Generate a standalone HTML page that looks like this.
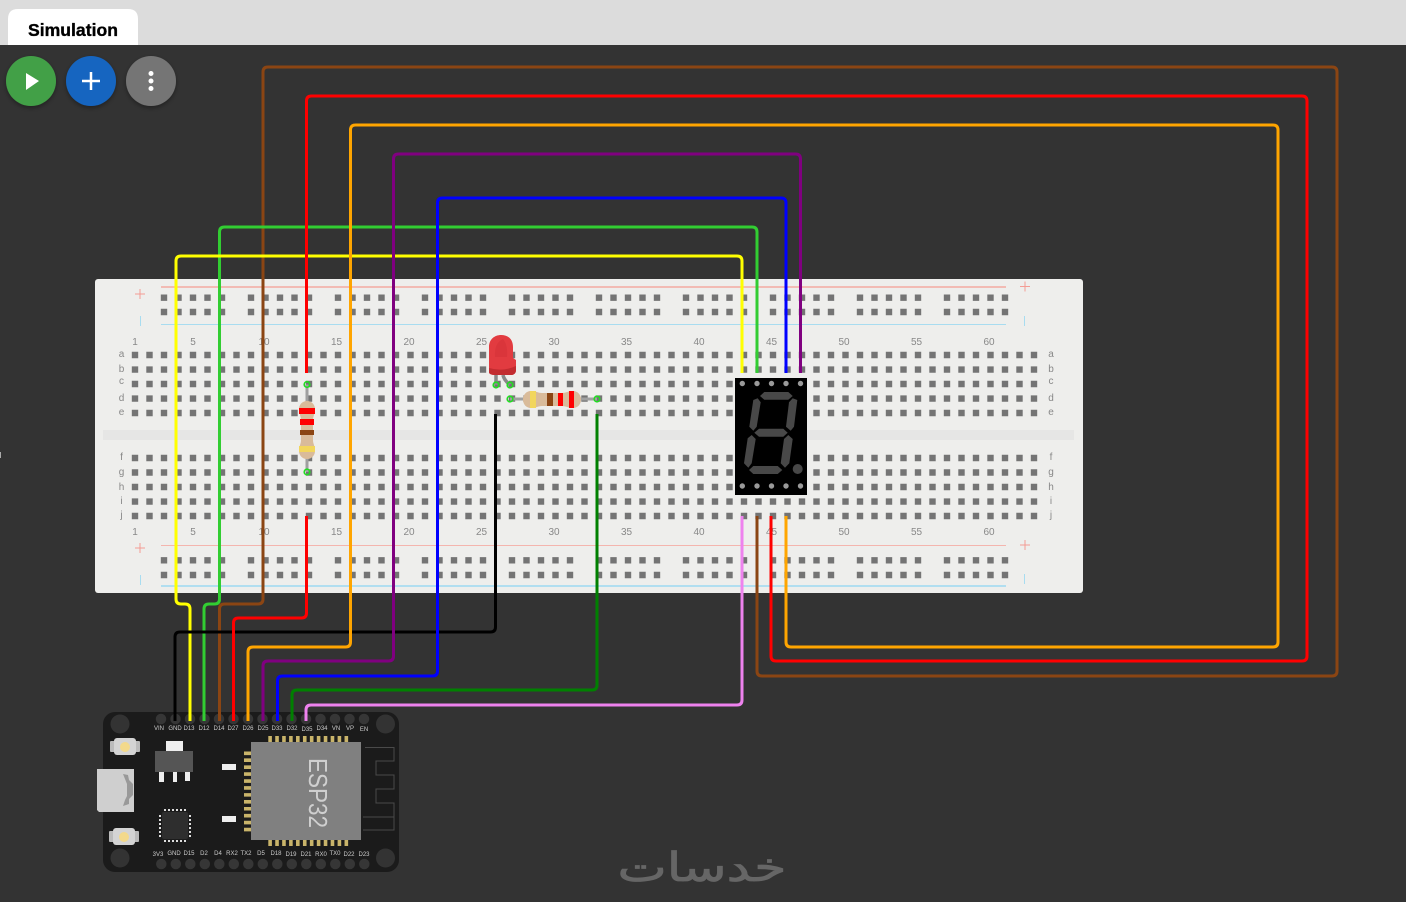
<!DOCTYPE html>
<html><head><meta charset="utf-8"><title>Simulation</title>
<style>html,body{margin:0;padding:0;background:#333;width:1406px;height:902px;overflow:hidden}svg{display:block}
.n{font:10px "Liberation Sans",sans-serif;fill:#888;text-anchor:middle}
.p{font:6px "Liberation Sans",sans-serif;fill:#ccc;text-anchor:middle}
.w{fill:none;stroke-width:3}</style></head><body>
<svg width="1406" height="902" viewBox="0 0 1406 902" xmlns="http://www.w3.org/2000/svg">
<defs><filter id="s" x="-30%" y="-30%" width="160%" height="160%"><feDropShadow dx="0" dy="2" stdDeviation="2.5" flood-color="#000" flood-opacity=".35"/></filter></defs>
<rect width="1406" height="902" fill="#333"/>
<rect width="1406" height="45" fill="#dcdcdc"/>
<path d="M8 45V19Q8 9 18 9H128Q138 9 138 19V45Z" fill="#fff"/>
<text x="73" y="36" font-family="Liberation Sans" font-weight="700" font-size="17.6" text-anchor="middle" fill="#000" stroke="#000" stroke-width=".35">Simulation</text>
<rect x="0" y="452" width="1" height="6" fill="#aaa"/>

<!-- breadboard -->
<rect x="95" y="279" width="988" height="314" rx="3" fill="#eeeeec"/>
<rect x="103" y="430" width="971" height="10" fill="#e6e6e5"/>
<g stroke="#747474" stroke-width="6.400" fill="none" stroke-dasharray="6.400 8.100">
<path d="M131.800 355H1037.400M131.800 369.600H1037.400M131.800 384H1037.400M131.800 398.600H1037.400M131.800 413H1037.400M131.800 458H1037.400M131.800 472.500H1037.400M131.800 487H1037.400M131.800 501.600H1037.400M131.800 516H1037.400"/>
</g>
<g stroke="#747474" stroke-width="6.400" fill="none" stroke-dasharray="6.400 8.100 6.400 8.100 6.400 8.100 6.400 8.100 6.400 22.600">
<path d="M160.800 297.700H1009M160.800 312H1009M160.800 560.300H1009M160.800 575H1009"/>
</g>
<path d="M161 287H1006" stroke="#f4aaa2" stroke-width="1.600"/>
<path d="M161 324.500H1006" stroke="#a8dcf0" stroke-width="1"/>
<path d="M161 545.500H1006" stroke="#f4b5ae" stroke-width="1"/>
<path d="M161 586H1006" stroke="#a8dcf0" stroke-width="1.800"/>
<g stroke="#f49c94" stroke-width="1" fill="none"><path d="M135 294H145M140 289V299M1020 286.500H1030M1025 281.500V291.500M135 548H145M140 543V553M1020 545H1030M1025 540V550"/></g>
<g stroke="#a8dcf0" stroke-width="1" fill="none"><path d="M140.500 316V326M1024.500 316V326M140.500 575V585M1024.500 574V584"/></g>
<g class="n">
<text class="n" x="135" y="345">1</text><text class="n" x="193" y="345">5</text><text class="n" x="264" y="345">10</text><text class="n" x="336.500" y="345">15</text><text class="n" x="409" y="345">20</text><text class="n" x="481.500" y="345">25</text><text class="n" x="554" y="345">30</text><text class="n" x="626.500" y="345">35</text><text class="n" x="699" y="345">40</text><text class="n" x="771.500" y="345">45</text><text class="n" x="844" y="345">50</text><text class="n" x="916.500" y="345">55</text><text class="n" x="989" y="345">60</text>
<text class="n" x="135" y="535">1</text><text class="n" x="193" y="535">5</text><text class="n" x="264" y="535">10</text><text class="n" x="336.500" y="535">15</text><text class="n" x="409" y="535">20</text><text class="n" x="481.500" y="535">25</text><text class="n" x="554" y="535">30</text><text class="n" x="626.500" y="535">35</text><text class="n" x="699" y="535">40</text><text class="n" x="771.500" y="535">45</text><text class="n" x="844" y="535">50</text><text class="n" x="916.500" y="535">55</text><text class="n" x="989" y="535">60</text>
<text class="n" x="121.500" y="357">a</text><text class="n" x="121.500" y="372">b</text><text class="n" x="121.500" y="384">c</text><text class="n" x="121.500" y="401">d</text><text class="n" x="121.500" y="415">e</text>
<text class="n" x="121.500" y="460">f</text><text class="n" x="121.500" y="475">g</text><text class="n" x="121.500" y="490">h</text><text class="n" x="121.500" y="504">i</text><text class="n" x="121.500" y="518">j</text>
<text class="n" x="1051" y="357">a</text><text class="n" x="1051" y="372">b</text><text class="n" x="1051" y="384">c</text><text class="n" x="1051" y="401">d</text><text class="n" x="1051" y="415">e</text>
<text class="n" x="1051" y="460">f</text><text class="n" x="1051" y="475">g</text><text class="n" x="1051" y="490">h</text><text class="n" x="1051" y="504">i</text><text class="n" x="1051" y="518">j</text>
</g>

<!-- wires -->
<path class="w" stroke="#8b4513" d="M219.500 722V609Q219.500 604 224.500 604H258Q263 604 263 599V72Q263 67 268 67H1332Q1337 67 1337 72V671Q1337 676 1332 676H762Q757 676 757 671V516"/>
<path class="w" stroke="#32cd32" d="M204 722V609Q204 604 209 604H214.500Q219.500 604 219.500 599V232Q219.500 227 224.500 227H752Q757 227 757 232V373"/>
<path class="w" stroke="#ffff00" d="M190 722V609Q190 604 185 604H181Q176 604 176 599V261Q176 256 181 256H737Q742 256 742 261V373"/>
<path class="w" stroke="#000" d="M175 722V637Q175 632 180 632H490.500Q495.500 632 495.500 627V414"/>
<path class="w" stroke="#ff0000" d="M233.500 722V623Q233.500 618 238.500 618H301.500Q306.500 618 306.500 613V516"/>
<path class="w" stroke="#ff0000" d="M306.500 373V101Q306.500 96 311.500 96H1302Q1307 96 1307 101V656Q1307 661 1302 661H776Q771 661 771 656V516"/>
<path class="w" stroke="#ffa500" d="M248 722V652Q248 647 253 647H345.500Q350.500 647 350.500 642V130Q350.500 125 355.500 125H1273Q1278 125 1278 130V642Q1278 647 1273 647H791Q786 647 786 642V516"/>
<path class="w" stroke="#800080" d="M263 722V666Q263 661 268 661H388.500Q393.500 661 393.500 656V159Q393.500 154 398.500 154H795.500Q800.500 154 800.500 159V373"/>
<path class="w" stroke="#0000ff" d="M277.500 722V681Q277.500 676 282.500 676H432.500Q437.500 676 437.500 671V203Q437.500 198 442.500 198H781Q786 198 786 203V373"/>
<path class="w" stroke="#008000" d="M292 722V695Q292 690 297 690H592Q597 690 597 685V414"/>
<path class="w" stroke="#ee82ee" d="M306 722V710Q306 705 311 705H737Q742 705 742 700V516"/>

<!-- 7 segment -->
<rect x="735" y="378" width="72" height="117" fill="#000"/>
<g fill="#9a9a9a"><circle cx="742.300" cy="383.500" r="2.700"/><circle cx="757" cy="383.500" r="2.700"/><circle cx="771.500" cy="383.500" r="2.700"/><circle cx="786" cy="383.500" r="2.700"/><circle cx="800.500" cy="383.500" r="2.700"/><circle cx="742.300" cy="486" r="2.700"/><circle cx="757" cy="486" r="2.700"/><circle cx="771.500" cy="486" r="2.700"/><circle cx="786" cy="486" r="2.700"/><circle cx="800.500" cy="486" r="2.700"/></g>
<g fill="#484848">
<polygon points="760,396 764.300,392 788.300,392 792.700,396 788.300,399.700 764.300,399.700"/>
<polygon points="753.300,400 757.700,398.300 760.700,402.300 756.700,426.700 753.300,430.700 749.300,426.700"/>
<polygon points="792.700,398.300 797.300,400 794,426.700 790.700,430.700 786,426.700 789,402.300"/>
<polygon points="754.300,432.700 759,428.700 783.300,428.700 787.700,432.700 783.300,436.700 759,436.700"/>
<polygon points="751.700,435 755.700,439 751.700,463.300 748.300,467.700 744,463.300 747.700,438.300"/>
<polygon points="788.300,435 792.700,439 789.300,463.300 785,467.700 780.700,463.300 784,439"/>
<polygon points="749,470 753.300,466 777.700,466 782.300,470 777.700,474 753.300,474"/>
<circle cx="797.700" cy="469" r="5"/>
</g>

<!-- LED -->
<path d="M496 375V385M503 375Q504 380 510 385" stroke="#888" stroke-width="3.500" fill="none"/>
<path d="M489 372V347C489 339 495 335 501 335C508 335 513 339 513 347V358L516 360V370Q516 374 512 375L496 375Q489 375 489 372Z" fill="#e23b40"/>
<path d="M495 357Q494 343 503 339Q508 345 507 357Z" fill="#d83439" opacity=".8"/>
<path d="M489 368Q503 372 516 366V370Q516 374 512 375H496Q489 375 489 372Z" fill="#c22c30"/>

<!-- horizontal resistor -->
<path d="M510 399H597" stroke="#a0a0a0" stroke-width="3"/>
<path d="M531 391C536 391 538 393 542 393H562C566 393 568 391 573 391C578 391 581 395 581 399.500C581 404 578 408 573 408C568 408 566 406 562 406H542C538 406 536 408 531 408C526 408 523 404 523 399.500C523 395 526 391 531 391Z" fill="#d9bb9a"/>
<rect x="530" y="391" width="6" height="17" fill="#f2d65c"/><rect x="547" y="393" width="6" height="13" fill="#8b4513"/><rect x="558" y="393" width="5" height="13" fill="#f00"/><rect x="569" y="391" width="5" height="17" fill="#f00"/>

<!-- vertical resistor -->
<path d="M307 384.500V472" stroke="#a0a0a0" stroke-width="3"/>
<path d="M299 409C299 405 302 401 307 401C312 401 315 405 315 409C315 414 313 416 313 420V440C313 444 315 446 315 451C315 455 312 459 307 459C302 459 299 455 299 451C299 446 301 444 301 440V420C301 416 299 414 299 409Z" fill="#d9bb9a"/>
<rect x="299" y="408" width="16" height="6" fill="#f00"/><rect x="300" y="419" width="14" height="6" fill="#f00"/><rect x="300" y="430" width="14" height="5" fill="#8b4513"/><rect x="299" y="446" width="16" height="6" fill="#f2d65c"/>

<g fill="none" stroke="#22dd22" stroke-width="1.600"><circle cx="307" cy="384.500" r="2.800"/><circle cx="307" cy="472" r="2.800"/><circle cx="496" cy="385" r="2.800"/><circle cx="510" cy="385" r="2.800"/><circle cx="510" cy="399" r="2.800"/><circle cx="597" cy="399" r="2.800"/></g>

<!-- ESP32 board -->
<rect x="103" y="712" width="296" height="160" rx="12" fill="#1b1b1b"/>
<g fill="#333"><circle cx="120" cy="724" r="9.500"/><circle cx="385.500" cy="724" r="9.500"/><circle cx="120" cy="858" r="9.500"/><circle cx="385.500" cy="858" r="9.500"/></g>
<g stroke="#363636" stroke-width="10.500" stroke-linecap="round" fill="none" stroke-dasharray="0 14.5"><path d="M161 719H372M161.300 864H372"/></g>
<path class="w" stroke="#000" d="M175 712V721"/><path class="w" stroke="#ffff00" d="M190 712V721"/><path class="w" stroke="#32cd32" d="M204 712V721"/><path class="w" stroke="#8b4513" d="M219.500 712V721"/><path class="w" stroke="#ff0000" d="M233.500 712V721"/><path class="w" stroke="#ffa500" d="M248 712V721"/><path class="w" stroke="#800080" d="M263 712V721"/><path class="w" stroke="#0000ff" d="M277.500 712V721"/><path class="w" stroke="#008000" d="M292 712V721"/><path class="w" stroke="#ee82ee" d="M306 712V721"/>
<g>
<text class="p" x="159" y="730">VIN</text><text class="p" x="175" y="730">GND</text><text class="p" x="189" y="730">D13</text><text class="p" x="204" y="730">D12</text><text class="p" x="219" y="730">D14</text><text class="p" x="233" y="730">D27</text><text class="p" x="248" y="730">D26</text><text class="p" x="263" y="730">D25</text><text class="p" x="277" y="730">D33</text><text class="p" x="292" y="730">D32</text><text class="p" x="307" y="731">D35</text><text class="p" x="322" y="730">D34</text><text class="p" x="336" y="730">VN</text><text class="p" x="350" y="730">VP</text><text class="p" x="364" y="731">EN</text>
<text class="p" x="158" y="856">3V3</text><text class="p" x="174" y="855">GND</text><text class="p" x="189" y="855">D15</text><text class="p" x="204" y="855">D2</text><text class="p" x="218" y="855">D4</text><text class="p" x="232" y="855">RX2</text><text class="p" x="246" y="855">TX2</text><text class="p" x="261" y="855">D5</text><text class="p" x="276" y="855">D18</text><text class="p" x="291" y="856">D19</text><text class="p" x="306" y="856">D21</text><text class="p" x="321" y="856">RX0</text><text class="p" x="335" y="855">TX0</text><text class="p" x="349" y="856">D22</text><text class="p" x="364" y="856">D23</text>
</g>
<!-- chip pins -->
<g stroke="#c9b46a" fill="none" stroke-dasharray="3.600 3.330">
<path stroke-width="6" d="M268.300 739H349"/><path stroke-width="6" d="M268.300 843H349"/>
<path stroke-width="7" d="M247.500 751.500V833"/>
</g>
<rect x="251" y="742" width="110" height="98" fill="#808080"/>
<text transform="translate(309 758) rotate(90)" font-family="Liberation Sans" font-size="26" fill="#cfcfcf" textLength="70" lengthAdjust="spacingAndGlyphs">ESP32</text>
<path d="M365 747.500H394V761H376V775H394V789H376V803H394V830H363M363 817H394" fill="none" stroke="#4a4a4a" stroke-width="1"/>
<rect x="166" y="741" width="17" height="10" fill="#eee"/><rect x="155" y="751" width="38" height="21" fill="#555"/>
<rect x="159" y="772" width="5" height="10" fill="#eee"/><rect x="173" y="772" width="4" height="10" fill="#eee"/><rect x="185" y="772" width="5" height="9" fill="#eee"/>
<rect x="222" y="764" width="14" height="6" fill="#eee"/><rect x="222" y="816" width="14" height="6" fill="#eee"/>
<rect x="162" y="812" width="26" height="27" rx="2" fill="#2e2e2e"/>
<g fill="none" stroke="#ddd" stroke-width="2" stroke-dasharray="2 2"><path d="M164 810H187M164 841H187M160 815V837M190 815V837"/></g>
<!-- USB -->
<path d="M97 769H134V812H99L97 810Z" fill="#cfcfcf"/>
<path d="M123 774L128 775L129 780L133 784V795L129 799V804L123 806L125 800L127 796V784Z" fill="#999"/>
<!-- buttons -->
<g><rect x="110" y="741" width="30" height="11" rx="1" fill="#bbb"/><rect x="114" y="738" width="22" height="17" rx="3" fill="#d4d4d4"/><circle cx="125" cy="747" r="5" fill="#f3d98b"/></g>
<g><rect x="109" y="831" width="30" height="11" rx="1" fill="#bbb"/><rect x="113" y="828" width="22" height="17" rx="3" fill="#d4d4d4"/><circle cx="124" cy="837" r="5" fill="#f3d98b"/></g>

<!-- toolbar -->
<circle cx="31" cy="81" r="25" fill="#43a047" filter="url(#s)"/>
<circle cx="91" cy="81" r="25" fill="#1565c0" filter="url(#s)"/>
<circle cx="151" cy="81" r="25" fill="#757575" filter="url(#s)"/>
<polygon points="26,73 39,81 26,90" fill="#fff"/>
<path d="M82 81H100M91 72V90" stroke="#fff" stroke-width="2.500"/>
<g fill="#fff"><circle cx="151" cy="73.500" r="2.500"/><circle cx="151" cy="81" r="2.500"/><circle cx="151" cy="88.500" r="2.500"/></g>

<!-- watermark -->
<text x="702" y="881" font-family="DejaVu Sans" font-size="40" text-anchor="middle" fill="#666" stroke="#666" stroke-width=".8" textLength="169" lengthAdjust="spacingAndGlyphs" direction="rtl">خدسات</text>
</svg>
</body></html>
